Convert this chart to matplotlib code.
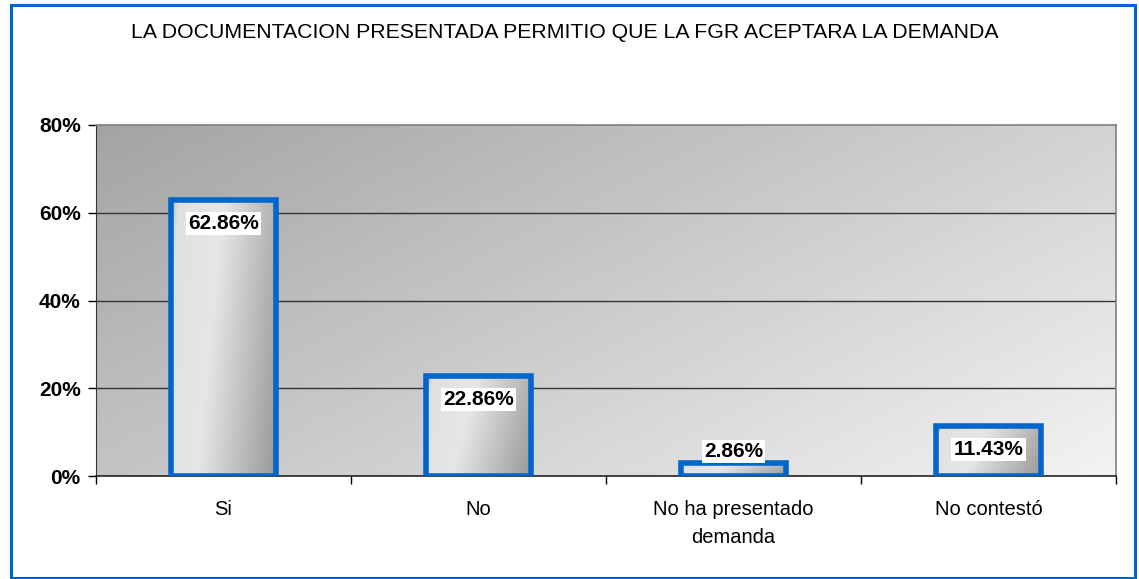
import matplotlib.pyplot as plt
import numpy as np
from matplotlib.patches import Rectangle

# data
categories = ['Si', 'No', 'No ha presentado\ndemanda', 'No contestó']
values = [62.86, 22.86, 2.86, 11.43]
labels = ['62.86%', '22.86%', '2.86%', '11.43%']
title = 'LA DOCUMENTACION PRESENTADA PERMITIO QUE LA FGR ACEPTARA LA DEMANDA'

plt.rcParams['font.family'] = ['Liberation Sans', 'DejaVu Sans']

W, H = 1139, 579
fig = plt.figure(figsize=(W / 100, H / 100), dpi=100)
fig.patch.set_facecolor('white')

# blue frame around the whole chart
frame = Rectangle((11 / W, 1 - 578 / H), (1135 - 11) / W, (578 - 5) / H,
                  transform=fig.transFigure, fill=False, edgecolor='#0066cc',
                  linewidth=2.2, zorder=10)
fig.patches.append(frame)

ax = fig.add_axes([96 / W, 1 - 476 / H, 1020 / W, 351 / H])
ax.set_xlim(0, 4)
ax.set_ylim(0, 80)

# gradient background of the plot area
gx, gy = np.meshgrid(np.linspace(0, 1, 200), np.linspace(0, 1, 100))
g = 0.6 * gx + 0.4 * gy  # 0 at top-left, 1 at bottom-right
bg = 0.64 + (0.95 - 0.64) * g
ax.imshow(bg, cmap='gray', vmin=0, vmax=1, extent=[0, 4, 0, 80],
          aspect='auto', origin='upper', zorder=0)

# grid lines
for yv in [20, 40, 60]:
    ax.axhline(yv, color='#333333', linewidth=1.0, zorder=1)

bar_w = 0.41
pos = np.arange(len(categories)) + 0.5
bars = ax.bar(pos, values, width=bar_w, color='none', edgecolor='#0066cc',
              linewidth=4, zorder=3)

# bar gradient fill
bx = np.linspace(0, 1, 200)
for b in bars:
    x0, w = b.get_x(), b.get_width()
    h = b.get_height()
    bgx, bgy = np.meshgrid(bx, np.linspace(0, 1, 200))
    t = bgx + 0.25 * bgy  # diagonal, darker towards bottom right
    col = np.where(t < 0.08, 0.74 + (0.88 - 0.74) * t / 0.08,
                   np.where(t < 0.5, 0.88 + 0.02 * (t - 0.08) / 0.42,
                            0.90 - (0.90 - 0.60) * np.clip((t - 0.5) / 0.75, 0, 1)))
    im = ax.imshow(col, cmap='gray', vmin=0, vmax=1,
                   extent=[x0, x0 + w, 0, h], aspect='auto', origin='upper',
                   zorder=2)
    im.set_clip_path(b)

# data labels
for p, v, lab in zip(pos, values, labels):
    yl = max(v - 5.4, 5.6)
    ax.text(p, yl, lab, ha='center', va='center', fontsize=15,
            fontweight='bold', zorder=5,
            bbox=dict(facecolor='white', edgecolor='none', pad=1.5))

ax.set_xticks([0, 1, 2, 3, 4], minor=False)
ax.set_xticklabels([])
ax.set_xticks(pos, minor=True)
ax.set_xticklabels(categories, minor=True, fontsize=14.5, linespacing=1.6)
ax.tick_params(axis='x', which='minor', length=0, pad=17)
ax.tick_params(axis='x', which='major', length=6, width=1, direction='out')

ax.set_yticks([0, 20, 40, 60, 80])
ax.set_yticklabels(['0%', '20%', '40%', '60%', '80%'], fontsize=15,
                   fontweight='bold')
ax.tick_params(axis='y', length=6, width=1, direction='out', pad=5)

for s in ['top', 'right']:
    ax.spines[s].set_color('#808080')
    ax.spines[s].set_linewidth(1.2)
ax.spines['left'].set_color('#333333')
ax.spines['bottom'].set_color('#222222')
ax.spines['bottom'].set_linewidth(1.2)

fig.text(565 / W, 1 - 33 / H, title, ha='center', va='center', fontsize=15.3)

fig.savefig('out.png', dpi=100)
